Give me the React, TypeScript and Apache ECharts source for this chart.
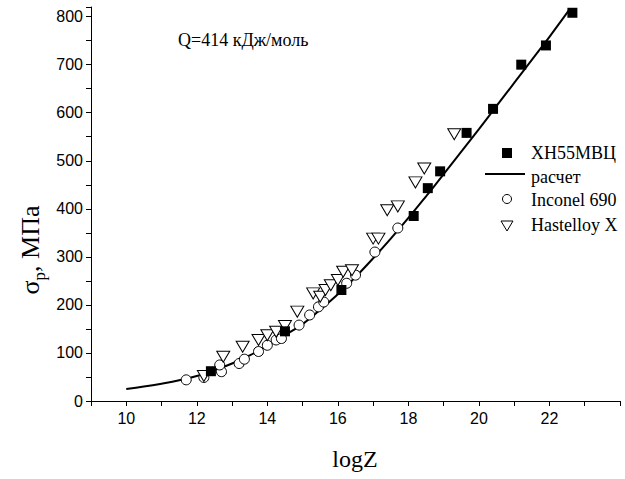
import React, { useEffect, useRef } from "react";
import * as echarts from "echarts";

// ХН55МВЦ (experiment)
const xnZ = [12.4, 14.5, 16.1, 18.15, 18.55, 18.9, 19.65, 20.4, 21.2, 21.9, 22.65];
const xnS = [62, 145, 231, 385, 443, 478, 558, 608, 700, 740, 808];

// расчет (calculated curve)
const calcZ = [10, 10.5, 11, 11.5, 12, 12.5, 13, 13.5, 14, 14.5, 15, 15.5, 16, 16.5, 17, 17.5, 18, 18.5, 19, 19.5, 20, 20.5, 21, 21.5, 22, 22.57];
const calcS = [25, 30, 36, 43, 52, 64, 78, 95, 115, 137, 160, 190, 222, 258, 297, 338, 381, 426, 472, 519, 566, 614, 662, 710, 758, 815];

// Inconel 690
const incZ = [11.7, 12.2, 12.7, 12.65, 13.2, 13.35, 13.75, 14.0, 14.25, 14.4, 14.9, 15.2, 15.45, 15.6, 16.25, 16.5, 17.05, 17.7];
const incS = [44, 49, 61, 75, 78, 87, 103, 116, 127, 130, 158, 179, 196, 206, 245, 262, 310, 360];

// Hastelloy X
const hasZ = [12.2, 12.75, 13.3, 13.75, 14.0, 14.25, 14.5, 14.85, 15.3, 15.5, 15.65, 15.8, 16.0, 16.15, 16.4, 17.0, 17.15, 17.4, 17.7, 18.2, 18.45, 19.3];
const hasS = [52, 92, 113, 127, 137, 144, 156, 186, 224, 217, 231, 241, 252, 269, 272, 338, 338, 397, 405, 455, 484, 555];

const xLabels = [10, 12, 14, 16, 18, 20, 22];
const yLabels = [0, 100, 200, 300, 400, 500, 600, 700, 800];

const legendNames = ["ХН55МВЦ", "расчет", "Inconel 690", "Hastelloy X"];
const title = "Q=414 кДж/моль";

const SERIF = "Liberation Serif";
const SANS = "Liberation Sans";

const zip = (a: number[], b: number[]) => a.map((v, i) => [v, b[i]]);

export default function App() {
  const ref = useRef<HTMLDivElement>(null);
  useEffect(() => {
    if (!ref.current) return;
    const chart = echarts.init(ref.current, undefined, { renderer: "svg" });
    const tri = "path://M0,0L12,0L6,10Z";
    chart.setOption({
      animation: false,
      backgroundColor: "#fff",
      grid: { left: 91, right: 5, top: 7, bottom: 78 },
      xAxis: {
        type: "value",
        min: 9,
        max: 24,
        interval: 1,
        axisLine: { onZero: false, lineStyle: { color: "#000", width: 1 } },
        axisTick: { length: 5, lineStyle: { color: "#000" } },
        axisLabel: {
          color: "#000",
          fontFamily: SANS,
          fontSize: 16,
          margin: 9,
          formatter: (v: number) => (xLabels.includes(v) ? String(v) : ""),
        },
        splitLine: { show: false },
      },
      yAxis: {
        type: "value",
        min: 0,
        max: 820,
        interval: 50,
        axisLine: { show: true, lineStyle: { color: "#000", width: 1 } },
        axisTick: { show: true, length: 5, lineStyle: { color: "#000" } },
        axisLabel: {
          color: "#000",
          fontFamily: SANS,
          fontSize: 16,
          margin: 8,
          formatter: (v: number) => (yLabels.includes(v) ? String(v) : ""),
        },
        splitLine: { show: false },
      },
      series: [
        {
          name: legendNames[1],
          type: "line",
          data: zip(calcZ, calcS),
          smooth: 0.4,
          showSymbol: false,
          lineStyle: { color: "#000", width: 2 },
          z: 2,
        },
        {
          name: legendNames[2],
          type: "scatter",
          data: zip(incZ, incS),
          symbol: "circle",
          symbolSize: 10,
          itemStyle: { color: "#fff", borderColor: "#000", borderWidth: 1, opacity: 1 },
          z: 3,
        },
        {
          name: legendNames[3],
          type: "scatter",
          data: zip(hasZ, hasS),
          symbol: tri,
          symbolSize: [13, 11],
          itemStyle: { color: "#fff", borderColor: "#000", borderWidth: 1, opacity: 1 },
          z: 4,
        },
        {
          name: legendNames[0],
          type: "scatter",
          data: zip(xnZ, xnS),
          symbol: "rect",
          symbolSize: 10,
          itemStyle: { color: "#000", opacity: 1 },
          z: 5,
        },
      ],
      graphic: [
        {
          type: "text",
          x: 178,
          y: 40,
          style: { text: title, fontFamily: SERIF, fontSize: 18, fill: "#000", verticalAlign: "middle" },
        },
        {
          type: "text",
          x: 355,
          y: 459,
          style: { text: "logZ", fontFamily: SERIF, fontSize: 24, fill: "#000", align: "center", verticalAlign: "middle" },
        },
        {
          type: "text",
          x: 30,
          y: 250,
          rotation: Math.PI / 2,
          style: {
            text: "{s|σ}{p|p}{s|, МПа}",
            fill: "#000",
            align: "center",
            verticalAlign: "middle",
            rich: {
              s: { fontFamily: SERIF, fontSize: 26, lineHeight: 36, verticalAlign: "middle", fill: "#000" },
              p: { fontFamily: SERIF, fontSize: 17, lineHeight: 17, verticalAlign: "bottom", fill: "#000" },
            },
          },
        },
        { type: "rect", shape: { x: 502, y: 148, width: 10, height: 10 }, style: { fill: "#000" } },
        { type: "line", shape: { x1: 485, y1: 174, x2: 525, y2: 174 }, style: { stroke: "#000", lineWidth: 2 } },
        { type: "circle", shape: { cx: 507, cy: 199, r: 4.5 }, style: { fill: "#fff", stroke: "#000", lineWidth: 1 } },
        { type: "polygon", shape: { points: [[501, 221], [513, 221], [507, 231]] }, style: { fill: "#fff", stroke: "#000", lineWidth: 1 } },
        ...legendNames.map((n, i) => ({
          type: "text",
          x: 531,
          y: [153, 177, 200, 225][i],
          style: { text: n, fontFamily: SERIF, fontSize: 18, fill: "#000", verticalAlign: "middle" },
        })),
      ],
    });
    return () => chart.dispose();
  }, []);
  return <div ref={ref} style={{ position: "absolute", left: 0, top: 0, width: 625, height: 479 }} />;
}
